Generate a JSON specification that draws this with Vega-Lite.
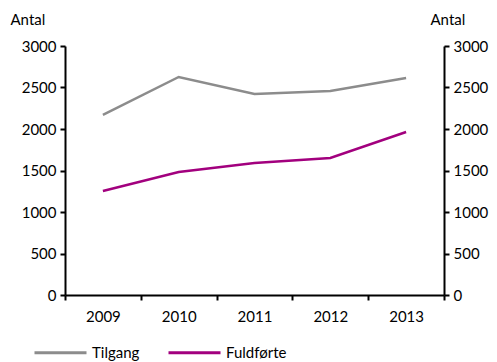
{
  "$schema": "https://vega.github.io/schema/vega-lite/v6.json",
  "width": 379,
  "height": 249,
  "autosize": "none",
  "padding": {"left": 65, "top": 46, "right": 53, "bottom": 67},
  "background": "white",
  "config": {
    "view": {"stroke": null},
    "font": "Lato",
    "axis": {"labelFont": "Lato", "titleFont": "Lato", "labelFontSize": 15, "titleFontSize": 15, "labelColor": "black", "titleColor": "black", "titleFontWeight": "normal", "domainColor": "black", "domainWidth": 2, "tickColor": "black", "tickWidth": 2, "tickSize": 5, "grid": false},
    "legend": {"labelFont": "Lato", "labelFontSize": 15, "labelColor": "black"}
  },
  "data": {
    "values": [
      {"year": "2009", "serie": "Tilgang", "antal": 2169},
      {"year": "2010", "serie": "Tilgang", "antal": 2627},
      {"year": "2011", "serie": "Tilgang", "antal": 2422},
      {"year": "2012", "serie": "Tilgang", "antal": 2458},
      {"year": "2013", "serie": "Tilgang", "antal": 2614},
      {"year": "2009", "serie": "Fuldførte", "antal": 1253},
      {"year": "2010", "serie": "Fuldførte", "antal": 1482},
      {"year": "2011", "serie": "Fuldførte", "antal": 1590},
      {"year": "2012", "serie": "Fuldførte", "antal": 1651},
      {"year": "2013", "serie": "Fuldførte", "antal": 1964}
    ]
  },
  "layer": [
    {
      "mark": {"type": "line", "strokeWidth": 2.5},
      "encoding": {
        "x": {"field": "year", "type": "ordinal", "bandPosition": 0.5,
          "scale": {"type": "band", "paddingInner": 0, "paddingOuter": 0},
          "axis": {"title": null, "labelAngle": 0, "tickBand": "extent", "labelPadding": 9, "domainWidth": 2}},
        "y": {"field": "antal", "type": "quantitative",
          "scale": {"domain": [0, 3000], "nice": false},
          "axis": {"values": [0, 500, 1000, 1500, 2000, 2500, 3000], "format": "d", "title": "Antal", "titleAngle": 0, "titleAlign": "left", "titleBaseline": "alphabetic", "titleX": -55, "titleY": -22, "labelPadding": 4}},
        "color": {"field": "serie", "type": "nominal",
          "scale": {"domain": ["Tilgang", "Fuldførte"], "range": ["#8C8C8C", "#A2007E"]},
          "legend": {"title": null, "orient": "none", "direction": "horizontal", "legendX": -32, "legendY": 279, "symbolType": "stroke", "symbolSize": 2704, "symbolStrokeWidth": 3, "columnPadding": 22, "labelOffset": 4, "padding": 0}}
      }
    },
    {
      "mark": {"type": "line", "opacity": 0},
      "encoding": {
        "x": {"field": "year", "type": "ordinal", "bandPosition": 0.5},
        "y": {"field": "antal", "type": "quantitative",
          "scale": {"domain": [0, 3000], "nice": false},
          "axis": {"orient": "right", "values": [0, 500, 1000, 1500, 2000, 2500, 3000], "format": "d", "title": "Antal", "titleAngle": 0, "titleAlign": "left", "titleBaseline": "alphabetic", "titleX": -14, "titleY": -22, "labelPadding": 4}},
        "detail": {"field": "serie", "type": "nominal"}
      }
    }
  ],
  "resolve": {"scale": {"y": "independent"}}
}
